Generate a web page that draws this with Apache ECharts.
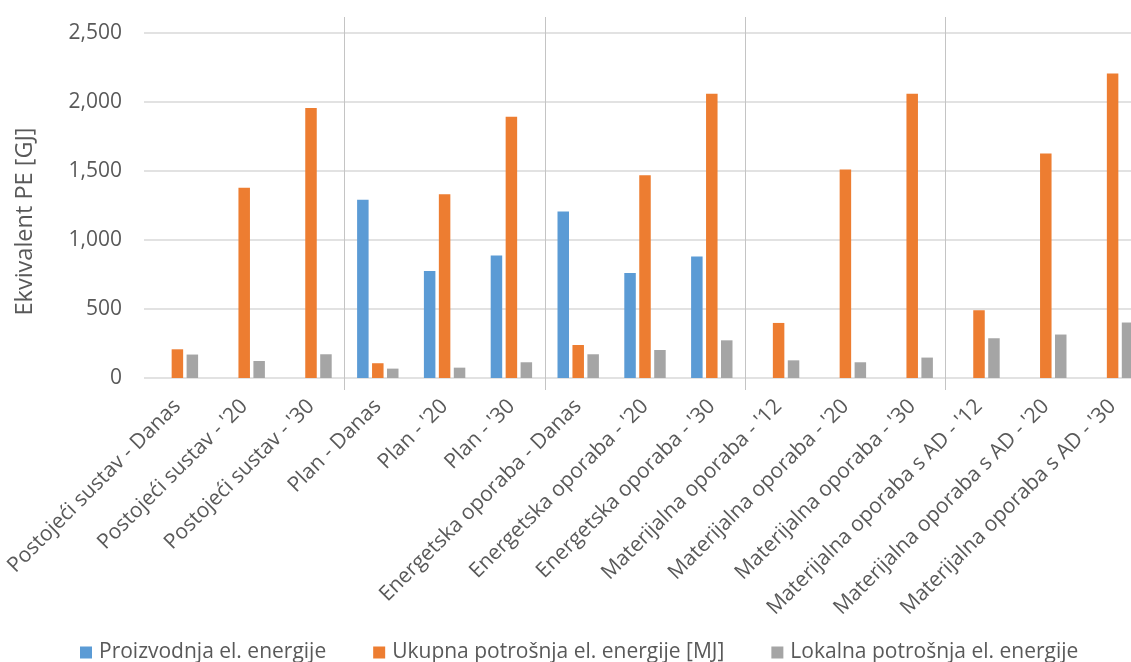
<!DOCTYPE html>
<html><head><meta charset="utf-8">
<script src="https://cdn.jsdelivr.net/npm/echarts@6/dist/echarts.min.js"></script>
<style>html,body{margin:0;padding:0;background:#fff}#c{width:1131px;height:662px}</style>
</head><body><div id="c"></div>
<script>
const categories = [
  "Postojeći sustav - Danas", "Postojeći sustav - '20", "Postojeći sustav - '30",
  "Plan - Danas", "Plan - '20", "Plan - '30",
  "Energetska oporaba - Danas", "Energetska oporaba - '20", "Energetska oporaba - '30",
  "Materijalna oporaba - '12", "Materijalna oporaba - '20", "Materijalna oporaba - '30",
  "Materijalna oporaba s AD - '12", "Materijalna oporaba s AD - '20", "Materijalna oporaba s AD - '30"
];
const seriesNames = ["Proizvodnja el. energije", "Ukupna potrošnja el. energije [MJ]", "Lokalna potrošnja el. energije"];
const proizvodnja = [null, null, null, 1291, 776, 888, 1207, 761, 880, null, null, null, null, null, null];
const ukupna = [208, 1378, 1956, 107, 1332, 1893, 239, 1470, 2060, 399, 1511, 2060, 491, 1627, 2207];
const lokalna = [170, 123, 172, 68, 75, 114, 172, 203, 273, 128, 114, 148, 288, 315, 402];
const yAxisName = "Ekvivalent PE [GJ]";
const yMin = 0, yMax = 2500, yInterval = 500;
const groupSize = 3;

const FONT = '"Open Sans"';
const TXT = '#595959';
const colors = ['#5B9BD5', '#ED7D31', '#A5A5A5'];
const chart = echarts.init(document.getElementById('c'), null, {renderer: 'canvas'});
const mk = (name, data, color) => ({
  name, type: 'bar', data, xAxisIndex: 0, yAxisIndex: 0,
  barWidth: 11.5, barGap: '30%',
  itemStyle: {color}, emphasis: {disabled: true}
});
chart.setOption({
  animation: false,
  textStyle: {fontFamily: FONT},
  grid: [
    {left: 144, width: 1002, top: 33, height: 345, outerBoundsMode: 'none', containLabel: false},
    {left: 144, width: 1002, top: 17, height: 373, outerBoundsMode: 'none', containLabel: false}
  ],
  legend: {
    top: 637, left: 75, itemWidth: 12, itemHeight: 12, itemGap: 47,
    icon: 'rect',
    textStyle: {fontFamily: FONT, fontSize: 21, color: TXT, padding: [0, 0, 0, 2]},
    data: seriesNames
  },
  xAxis: [
    {
      type: 'category', gridIndex: 0, data: categories,
      axisLine: {show: false}, axisTick: {show: false},
      axisLabel: {rotate: 45, fontSize: 21, color: TXT, fontFamily: FONT, margin: 25, interval: 0}
    },
    {
      type: 'category', gridIndex: 1, data: categories,
      axisLine: {show: false}, axisTick: {show: false}, axisLabel: {show: false},
      splitLine: {show: true, interval: (i) => i > 0 && i % groupSize === 0, lineStyle: {color: '#C4C4C4', width: 1}}
    }
  ],
  yAxis: [
    {
      type: 'value', gridIndex: 0, min: yMin, max: yMax, interval: yInterval,
      name: yAxisName, nameLocation: 'middle', nameGap: 107,
      nameTextStyle: {fontSize: 23.5, color: TXT, fontFamily: FONT, padding: [0, 0, 0, -32]},
      axisLine: {show: false}, axisTick: {show: false},
      axisLabel: {fontSize: 21, color: TXT, fontFamily: FONT, margin: 22,
        formatter: (v) => v.toLocaleString('en-US')},
      splitLine: {lineStyle: {color: '#D9D9D9', width: 1.5}}
    },
    {type: 'value', gridIndex: 1, show: false}
  ],
  series: [
    mk(seriesNames[0], proizvodnja, colors[0]),
    mk(seriesNames[1], ukupna, colors[1]),
    mk(seriesNames[2], lokalna, colors[2])
  ]
});
</script></body></html>
